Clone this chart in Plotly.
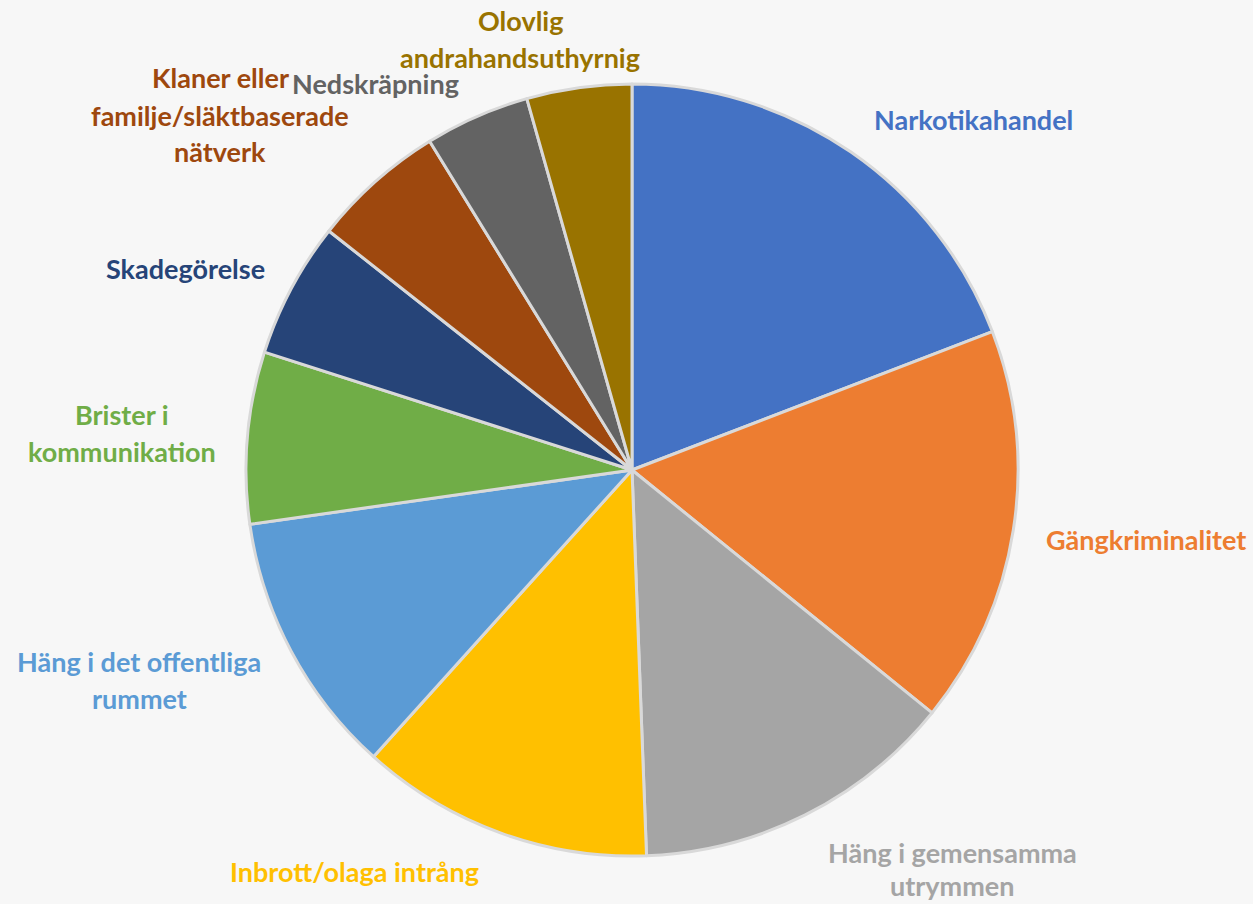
import plotly.graph_objects as go

categories = ["Narkotikahandel", "Gängkriminalitet", "Häng i gemensamma utrymmen",
              "Inbrott/olaga intrång", "Häng i det offentliga rummet", "Brister i kommunikation",
              "Skadegörelse", "Klaner eller familje/släktbaserade nätverk", "Nedskräpning",
              "Olovlig andrahandsuthyrnig"]
values = [19.2, 16.7, 13.6, 12.3, 11.1, 7.2, 5.7, 5.6, 4.4, 4.4]
colors = ["#4472C4", "#ED7D31", "#A5A5A5", "#FFC000", "#5B9BD5", "#70AD47",
          "#264478", "#9E480E", "#636363", "#997300"]

# label lines as displayed (category index, line text)
label_lines = [
    (0, "Narkotikahandel"),
    (1, "Gängkriminalitet"),
    (2, "Häng i gemensamma"), (2, "utrymmen"),
    (3, "Inbrott/olaga intrång"),
    (4, "Häng i det offentliga"), (4, "rummet"),
    (5, "Brister i"), (5, "kommunikation"),
    (6, "Skadegörelse"),
    (7, "Klaner eller"), (7, "familje/släktbaserade"), (7, "nätverk"),
    (8, "Nedskräpning"),
    (9, "Olovlig"), (9, "andrahandsuthyrnig"),
]
# pixel centres of each label line (layout)
label_pos = [
    (973, 120), (1146, 539), (952, 852), (952, 885), (354, 871),
    (139, 661), (139, 698), (122, 414), (122, 451), (186, 269),
    (220, 78), (220, 115), (220, 151), (375, 83), (520, 20), (520, 57),
]

W, H = 1253, 904
cx, cy, r = 632, 470, 386

fig = go.Figure(go.Pie(
    labels=categories, values=values, sort=False, direction="clockwise",
    rotation=0, textinfo="none", hoverinfo="label+value",
    marker=dict(colors=colors, line=dict(color="#D9D9D9", width=3)),
    domain=dict(x=[(cx - r) / W, (cx + r) / W], y=[1 - (cy + r) / H, 1 - (cy - r) / H]),
    showlegend=False,
))

for (ci, txt), (px, py) in zip(label_lines, label_pos):
    fig.add_annotation(x=px / W, y=1 - py / H, xref="paper", yref="paper",
                       text="<b>%s</b>" % txt, showarrow=False,
                       xanchor="center", yanchor="middle",
                       font=dict(family="Lato", size=27, color=colors[ci]))

fig.update_layout(width=W, height=H, margin=dict(l=0, r=0, t=0, b=0),
                  paper_bgcolor="#F7F7F7", plot_bgcolor="#F7F7F7")
fig.write_html("out.html")
